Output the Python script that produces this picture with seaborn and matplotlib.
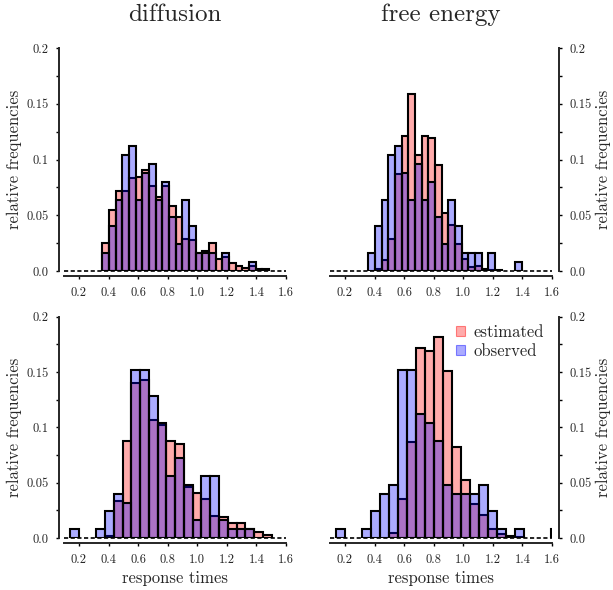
import numpy as np
import pandas as pd
import seaborn as sns
import matplotlib.pyplot as plt
from matplotlib.patches import Patch
from matplotlib.ticker import MultipleLocator

# column titles (models) and axis labelling
models = ["diffusion", "free energy"]
x_ticks = [0.2, 0.4, 0.6, 0.8, 1.0, 1.2, 1.4, 1.6]
x_tick_labels = ["0.2", "0.4", "0.6", "0.8", "1.0", "1.2", "1.4", "1.6"]
y_ticks = [0.0, 0.05, 0.1, 0.15, 0.2]
y_tick_labels = ["0.0", "0.05", "0.1", "0.15", "0.2"]
series_names = ["estimated", "observed"]

# histogram bins: first edge and bin width per panel
diff_top_start, diff_top_width = 0.358, 0.0451
free_top_start, free_top_width = 0.358, 0.0451
diff_bot_start, diff_bot_width = 0.139, 0.0593
free_bot_start, free_bot_width = 0.136, 0.0608

# relative frequencies per bin
diff_top_est = [0.025, 0.055, 0.072, 0.072, 0.083, 0.084, 0.091, 0.076, 0.066, 0.076,
                0.058, 0.048, 0.029, 0.028, 0.016, 0.018, 0.025, 0.011, 0.013, 0.007,
                0.0045, 0.0024, 0.0048, 0.002, 0.002]
diff_top_obs = [0.016, 0.040, 0.064, 0.104, 0.112, 0.064, 0.088, 0.096, 0.064, 0.080,
                0.048, 0.024, 0.064, 0.040, 0.016, 0.016, 0.016, 0.0, 0.016, 0.0,
                0.0, 0.0, 0.008, 0.0, 0.0]

free_top_est = [0.0, 0.0015, 0.010, 0.029, 0.087, 0.121, 0.159, 0.104, 0.121, 0.119,
                0.095, 0.052, 0.041, 0.024, 0.011, 0.004, 0.0048, 0.0015, 0.001, 0.001,
                0.0, 0.0, 0.0]
free_top_obs = [0.016, 0.040, 0.064, 0.104, 0.112, 0.088, 0.064, 0.096, 0.064, 0.080,
                0.048, 0.024, 0.064, 0.040, 0.016, 0.016, 0.016, 0.0, 0.016, 0.0,
                0.0, 0.0, 0.008]

diff_bot_est = [0.0, 0.0, 0.0, 0.0, 0.0018, 0.033, 0.088, 0.140, 0.143, 0.107,
                0.102, 0.088, 0.085, 0.0465, 0.041, 0.035, 0.0195, 0.019, 0.014, 0.014,
                0.0084, 0.0054, 0.003]
diff_bot_obs = [0.008, 0.0, 0.0, 0.008, 0.024, 0.040, 0.032, 0.152, 0.152, 0.128,
                0.104, 0.056, 0.072, 0.048, 0.016, 0.056, 0.056, 0.016, 0.008, 0.008,
                0.008, 0.0, 0.0]

free_bot_est = [0.0, 0.0, 0.0, 0.0, 0.0, 0.0, 0.0045, 0.035, 0.087, 0.172,
                0.169, 0.182, 0.151, 0.082, 0.052, 0.031, 0.021, 0.008, 0.0033, 0.0022,
                0.0011, 0.0, 0.0, 0.0, 0.0]
free_bot_obs = [0.008, 0.0, 0.0, 0.008, 0.024, 0.040, 0.048, 0.152, 0.152, 0.112,
                0.104, 0.088, 0.048, 0.040, 0.040, 0.040, 0.048, 0.024, 0.008, 0.0,
                0.008, 0.0, 0.0, 0.0, 0.008]

RED = "red"
BLUE = "blue"
ALPHA = 0.33

sns.set_style("ticks")
plt.rcParams["font.family"] = ["cmr10", "DejaVu Serif"]
plt.rcParams["mathtext.fontset"] = "cm"
plt.rcParams["axes.formatter.use_mathtext"] = True


def draw_panel(ax, start, width, est, obs):
    edges = [start + width * i for i in range(len(est) + 1)]
    centers = [e + width / 2 for e in edges[:-1]]
    # estimated first, observed on top
    for vals, col in ((est, RED), (obs, BLUE)):
        df = pd.DataFrame({"rt": centers, "freq": vals})
        sns.histplot(data=df, x="rt", weights="freq", bins=edges, color=col,
                     alpha=ALPHA, edgecolor="black", linewidth=1.5, ax=ax)
    for p in ax.patches:
        if p.get_height() == 0:
            p.set_visible(False)
    ax.axhline(0, color="black", ls=(0, (2.5, 1.5)), lw=1.2, zorder=0.5, clip_on=False)
    ax.set_xlim(0.1, 1.6)
    ax.set_ylim(0, 0.2)


fig = plt.figure(figsize=(6.13, 5.9), dpi=100)
W, H = 613.0, 590.0
col_left = [64.2 / W, 330.2 / W]
col_width = 221.8 / W
row_bottom = [(H - 271) / H, (H - 538) / H]
row_height = [223 / H, 221.3 / H]

panels = [
    (0, 0, diff_top_start, diff_top_width, diff_top_est, diff_top_obs),
    (0, 1, free_top_start, free_top_width, free_top_est, free_top_obs),
    (1, 0, diff_bot_start, diff_bot_width, diff_bot_est, diff_bot_obs),
    (1, 1, free_bot_start, free_bot_width, free_bot_est, free_bot_obs),
]

for row, col, start, width, est, obs in panels:
    ax = fig.add_axes([col_left[col], row_bottom[row], col_width, row_height[row]])
    draw_panel(ax, start, width, est, obs)

    ax.set_xticks(x_ticks)
    ax.set_xticklabels(x_tick_labels)
    ax.set_yticks(y_ticks)
    ax.set_yticklabels(y_tick_labels)
    ax.yaxis.set_minor_locator(MultipleLocator(0.025))
    ax.tick_params(which="both", direction="out", length=2.5, width=1.0,
                   pad=5.0, labelsize=9, color="black")

    ax.spines["top"].set_visible(False)
    ax.spines["bottom"].set_position(("outward", 3.6))
    ax.spines["bottom"].set_linewidth(1.4)
    if col == 0:
        ax.spines["right"].set_visible(False)
        ax.spines["left"].set_position(("outward", 3.6))
        ax.spines["left"].set_linewidth(1.4)
    else:
        ax.spines["left"].set_visible(False)
        ax.spines["right"].set_visible(True)
        ax.spines["right"].set_position(("outward", 5.0))
        ax.spines["right"].set_linewidth(1.4)
        ax.yaxis.tick_right()
        ax.yaxis.set_label_position("right")

    ax.set_ylabel("relative frequencies", fontsize=12, labelpad=3)
    if row == 0:
        ax.set_xlabel("")
        ax.set_title(models[col], fontsize=18, pad=19.5)
    else:
        ax.set_xlabel("response times", fontsize=12)

    if row == 1 and col == 1:
        handles = [Patch(facecolor=(1, 0, 0, ALPHA), edgecolor=(1, 0, 0, 0.45), lw=0.8),
                   Patch(facecolor=(0, 0, 1, ALPHA), edgecolor=(0, 0, 1, 0.45), lw=0.8)]
        ax.legend(handles, series_names, loc="upper right", frameon=False, fontsize=12,
                  handlelength=0.55, handleheight=0.55, handletextpad=0.5,
                  labelspacing=0.2, borderaxespad=0.2, borderpad=0.3)

fig.savefig("out.png", dpi=100)
